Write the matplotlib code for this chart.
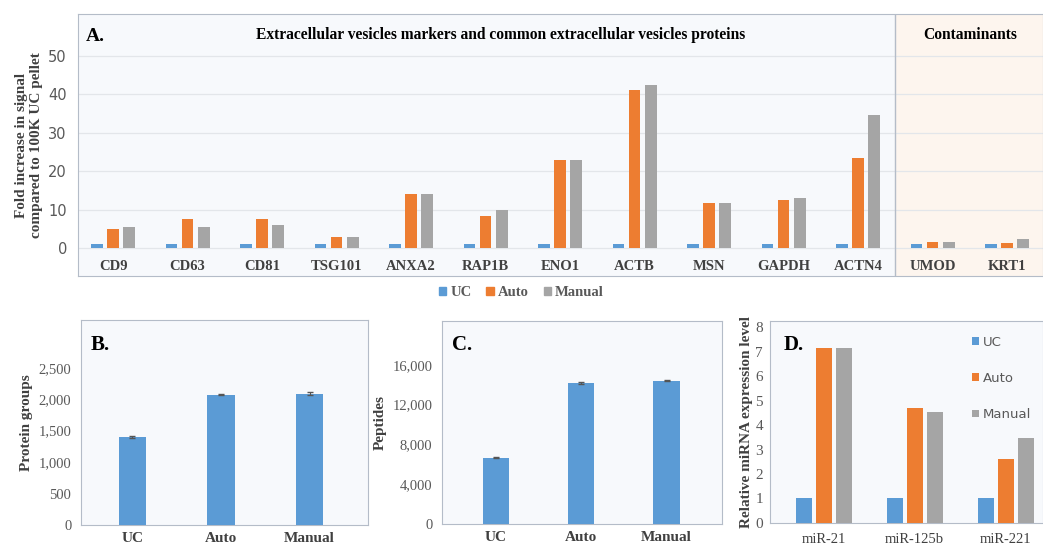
import matplotlib.pyplot as plt
import numpy as np
from matplotlib.patches import Patch

plt.rcParams['font.family'] = ['Liberation Serif', 'DejaVu Serif']

# --- datos ---
proteinas = ["CD9", "CD63", "CD81", "TSG101", "ANXA2", "RAP1B", "ENO1",
             "ACTB", "MSN", "GAPDH", "ACTN4", "UMOD", "KRT1"]
uc_a = [1, 1, 1, 1, 1, 1, 1, 1, 1, 1, 1, 1, 1]
auto_a = [4.9, 7.6, 7.5, 2.8, 14.2, 8.4, 22.8, 41.2, 11.7, 12.4, 23.4, 1.6, 1.4]
manual_a = [5.4, 5.5, 6.1, 2.8, 14.2, 10.0, 22.9, 42.3, 11.6, 13.0, 34.5, 1.5, 2.4]

metodos = ["UC", "Auto", "Manual"]
grupos_prot = [1395, 2075, 2090]
grupos_err = [15, 12, 18]
peptidos = [6680, 14160, 14390]
peptidos_err = [60, 70, 60]

mirnas = ["miR-21", "miR-125b", "miR-221"]
uc_d = [1, 1, 1]
auto_d = [7.15, 4.68, 2.6]
manual_d = [7.15, 4.55, 3.46]

azul = "#5b9bd5"
naranja = "#ed7d31"
gris = "#a5a5a5"
borde = "#b4bcc8"
fondo = "#f7f9fc"
texto = "#404040"

fig = plt.figure(figsize=(10.43, 5.49), dpi=100)

# ---------------- panel A ----------------
ax = fig.add_axes([0.0748, 0.497, 0.925, 0.4775])
ax.set_facecolor(fondo)
x = np.arange(len(proteinas))
w = 0.16
d = 0.215
ax.bar(x - d, uc_a, w, color=azul, zorder=3)
ax.bar(x, auto_a, w, color=naranja, zorder=3)
ax.bar(x + d, manual_a, w, color=gris, zorder=3)
ax.axvspan(10.5, 13, color="#fdf5ee", zorder=0)
ax.axvline(10.5, color=borde, lw=1, zorder=2)
ax.set_xlim(-0.47, 12.48)
ax.set_ylim(-7.3, 60.9)
ax.set_yticks([0, 10, 20, 30, 40, 50])
for yy in [0, 10, 20, 30, 40, 50]:
    ax.axhline(yy, color="#e3e6ea", lw=0.9, zorder=1)
ax.set_xticks([])
ax.tick_params(axis='y', length=0, pad=8, labelsize=10.5, labelcolor="#595959")
for lab in ax.get_yticklabels():
    lab.set_fontfamily('DejaVu Sans')
for i, p in enumerate(proteinas):
    ax.text(i, -4.7, p, ha='center', va='center', fontsize=10.5,
            fontweight='bold', color=texto)
for s in ax.spines.values():
    s.set_color(borde)
ax.text(0.008, 0.915, "A.", transform=ax.transAxes, fontsize=14,
        fontweight='bold', va='center')
ax.text(5.2, 55.4, "Extracellular vesicles markers and common extracellular vesicles proteins",
        ha='center', va='center', fontsize=11.2, fontweight='bold')
ax.text(11.5, 55.4, "Contaminants", ha='center', va='center',
        fontsize=11.2, fontweight='bold')
ax.set_ylabel("Fold increase in signal\ncompared to 100K UC pellet",
              fontsize=11, fontweight='bold', color=texto, labelpad=4)

manejadores = [Patch(color=azul, label="UC"), Patch(color=naranja, label="Auto"),
               Patch(color=gris, label="Manual")]
leg = fig.legend(handles=manejadores, loc='center', bbox_to_anchor=(0.5, 0.467),
                 ncol=3, frameon=False, fontsize=10.5, handlelength=0.5,
                 handleheight=0.5, handletextpad=0.3, columnspacing=1.0)
for t in leg.get_texts():
    t.set_fontweight('bold')
    t.set_color("#595959")


def panel_simple(pos, valores, errores, ylim, ticks, etiquetas, ylabel, letra, xlim):
    ax = fig.add_axes(pos)
    ax.set_facecolor(fondo)
    xs = np.arange(len(metodos))
    ax.bar(xs, valores, 0.31, color=azul, yerr=errores, capsize=2,
           error_kw={'elinewidth': 0.8, 'ecolor': '#555555'}, zorder=3)
    ax.set_xlim(*xlim)
    ax.set_ylim(*ylim)
    ax.set_yticks(ticks)
    ax.set_yticklabels(etiquetas)
    ax.set_xticks(xs)
    ax.set_xticklabels(metodos, fontweight='bold')
    ax.tick_params(axis='y', length=0, pad=7, labelsize=10.5, labelcolor="#595959")
    ax.tick_params(axis='x', length=0, pad=5, labelsize=11, labelcolor=texto)
    for s in ax.spines.values():
        s.set_color(borde)
    ax.text(0.035, 0.88, letra, transform=ax.transAxes, fontsize=15,
            fontweight='bold', va='center')
    ax.set_ylabel(ylabel, fontsize=11, fontweight='bold', color=texto, labelpad=4)
    return ax


# ---------------- panel B ----------------
panel_simple([0.0777, 0.0437, 0.2752, 0.3734], grupos_prot, grupos_err,
             (0, 3260), [0, 500, 1000, 1500, 2000, 2500],
             ["0", "500", "1,000", "1,500", "2,000", "2,500"],
             "Protein groups", "B.", (-0.58, 2.66))

# ---------------- panel C ----------------
panel_simple([0.4238, 0.0455, 0.2685, 0.370], peptidos, peptidos_err,
             (0, 20400), [0, 4000, 8000, 12000, 16000],
             ["0", "4,000", "8,000", "12,000", "16,000"],
             "Peptides", "C.", (-0.63, 2.65))

# ---------------- panel D ----------------
ax = fig.add_axes([0.7383, 0.0474, 0.2617, 0.368])
ax.set_facecolor(fondo)
xd = np.arange(len(mirnas))
wd = 0.176
dd = 0.22
ax.bar(xd - dd, uc_d, wd, color=azul, label="UC", zorder=3)
ax.bar(xd, auto_d, wd, color=naranja, label="Auto", zorder=3)
ax.bar(xd + dd, manual_d, wd, color=gris, label="Manual", zorder=3)
ax.set_xlim(-0.59, 2.41)
ax.set_ylim(0, 8.25)
ax.set_yticks(range(0, 9))
ax.set_xticks(xd)
ax.set_xticklabels(mirnas)
ax.tick_params(axis='y', length=0, pad=5, labelsize=11, labelcolor="#595959")
ax.tick_params(axis='x', length=0, pad=7, labelsize=10.5, labelcolor=texto)
for s in ax.spines.values():
    s.set_color(borde)
ax.text(0.05, 0.88, "D.", transform=ax.transAxes, fontsize=15,
        fontweight='bold', va='center')
ax.set_ylabel("Relative miRNA expression level", fontsize=11,
              fontweight='bold', color=texto, labelpad=2)
legd = ax.legend(loc='upper right', bbox_to_anchor=(1.0, 0.985), frameon=False,
                 handlelength=0.5, handleheight=0.5,
                 handletextpad=0.3, labelspacing=1.75,
                 prop={'family': 'DejaVu Sans', 'size': 9.5})
for t in legd.get_texts():
    t.set_color("#595959")

fig.savefig("out.png", dpi=100)
